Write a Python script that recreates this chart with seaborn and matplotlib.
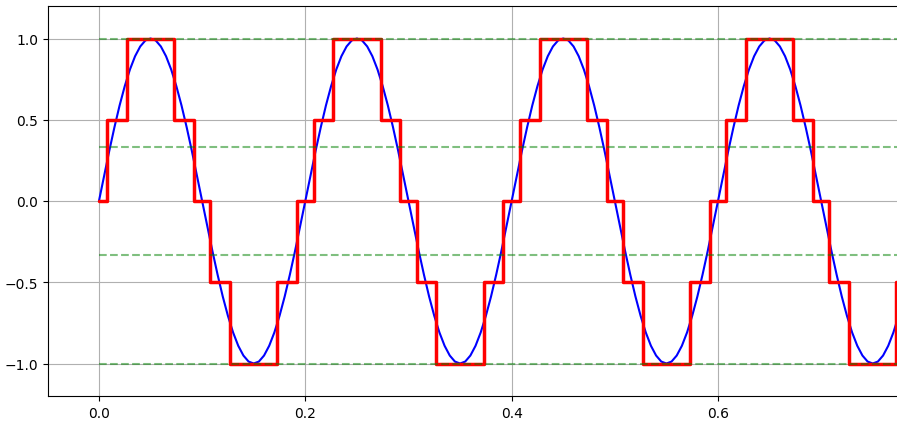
import numpy as np
import matplotlib
matplotlib.use("Agg")
import matplotlib.pyplot as plt
import seaborn as sns

# ── Data ──────────────────────────────────────────────────────────────────────
# one period (0.2 s) of the blue signal, sampled every 0.005 s
T_STEP = 0.005
PERIOD_VALUES = [
    0.000, 0.156, 0.309, 0.454, 0.588, 0.707, 0.809, 0.891, 0.951, 0.988,
    1.000, 0.988, 0.951, 0.891, 0.809, 0.707, 0.588, 0.454, 0.309, 0.156,
    0.000, -0.156, -0.309, -0.454, -0.588, -0.707, -0.809, -0.891, -0.951, -0.988,
    -1.000, -0.988, -0.951, -0.891, -0.809, -0.707, -0.588, -0.454, -0.309, -0.156,
]
N_PERIODS = 4

# red quantized signal: step edges and the level held between them
STEP_EDGES = [
    0.000, 0.008, 0.027, 0.073, 0.092, 0.108, 0.127, 0.173, 0.192,
    0.208, 0.227, 0.273, 0.292, 0.308, 0.327, 0.373, 0.392,
    0.408, 0.427, 0.473, 0.492, 0.508, 0.527, 0.573, 0.592,
    0.608, 0.627, 0.673, 0.692, 0.708, 0.727, 0.773, 0.792, 0.800,
]
STEP_LEVELS = [
    0, 0.5, 1, 0.5, 0, -0.5, -1, -0.5,
    0, 0.5, 1, 0.5, 0, -0.5, -1, -0.5,
    0, 0.5, 1, 0.5, 0, -0.5, -1, -0.5,
    0, 0.5, 1, 0.5, 0, -0.5, -1, -0.5,
    0,
]

# green dashed reference levels
REF_LEVELS = [1.0, 1 / 3, -1 / 3, -1.0]

X_TICKS = [0.0, 0.2, 0.4, 0.6]
Y_TICKS = [-1.0, -0.5, 0.0, 0.5, 1.0]

# ── Style ─────────────────────────────────────────────────────────────────────
sns.set_theme(style="ticks")
plt.rcParams["font.family"] = ["DejaVu Sans"]

fig = plt.figure(figsize=(8.97, 4.27), dpi=100)
ax = fig.add_axes([48 / 897, 30 / 427, 849 / 897, 390 / 427])

# blue continuous signal
sig = np.append(np.tile(PERIOD_VALUES, N_PERIODS), PERIOD_VALUES[0])
t = np.arange(len(sig)) * T_STEP
sns.lineplot(x=t, y=sig, color="blue", linewidth=1.5, estimator=None,
             sort=False, ax=ax, zorder=2)

# red staircase
sns.lineplot(x=STEP_EDGES, y=STEP_LEVELS + [STEP_LEVELS[-1]], color="red",
             linewidth=2.5, drawstyle="steps-post", estimator=None,
             sort=False, ax=ax, zorder=3)

# green dashed levels
ax.hlines(REF_LEVELS, 0, STEP_EDGES[-1], colors="green", linestyles="--",
          linewidth=1.5, alpha=0.5, zorder=4)

ax.set_xlim(-0.0494, 0.7735)
ax.set_ylim(-1.2, 1.2)
ax.set_xticks(X_TICKS)
ax.set_yticks(Y_TICKS)
ax.tick_params(labelsize=10, colors="black", length=3.5, width=0.8)
ax.grid(True, color="#b0b0b0", linewidth=0.8)
ax.set_axisbelow(True)
for side in ["left", "bottom", "top"]:
    ax.spines[side].set_color("black")
    ax.spines[side].set_linewidth(0.8)
ax.spines["right"].set_visible(False)

fig.savefig("out.png", dpi=100)
plt.close(fig)
